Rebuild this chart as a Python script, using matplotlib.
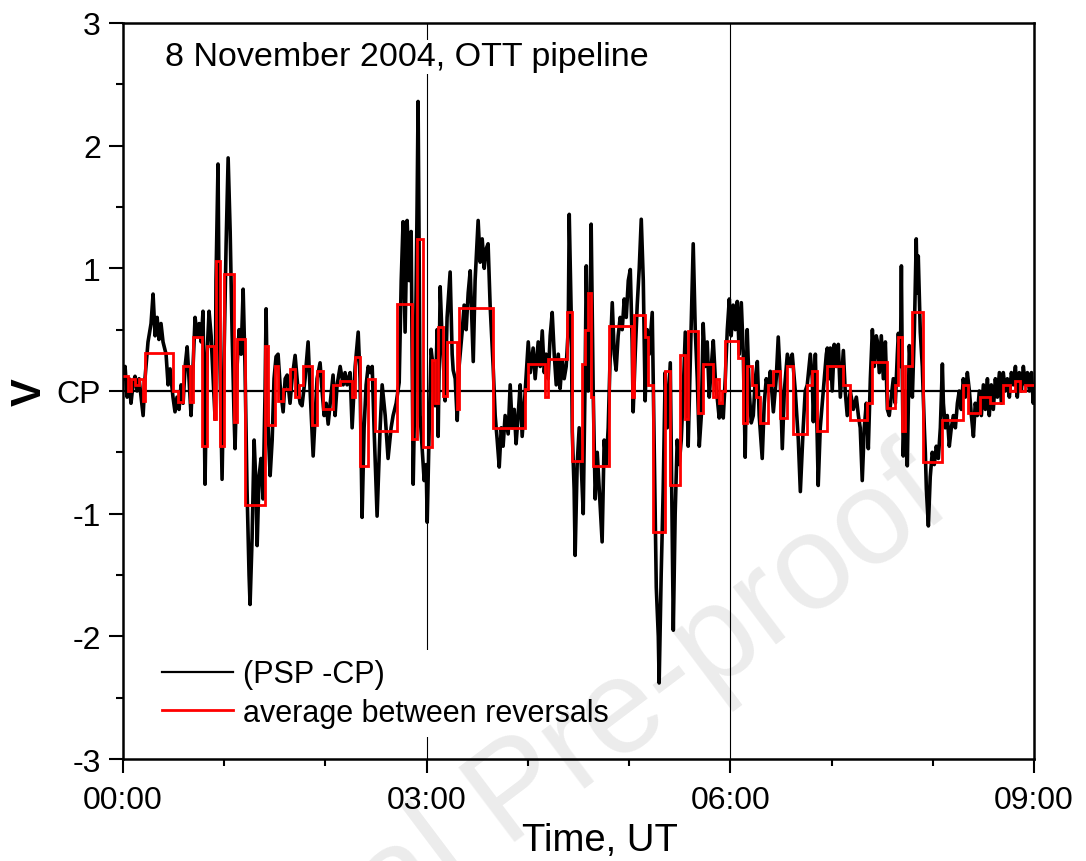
import matplotlib
matplotlib.use("Agg")
from matplotlib import pyplot as plt
from matplotlib.lines import Line2D
import numpy as np

plt.rcParams['font.family'] = ['Liberation Sans', 'DejaVu Sans']

t_h0 = [0.0, 1.2, 2.4, 3.6, 4.7, 5.9, 7.1, 8.3, 9.5, 10.7, 11.9, 13.0, 14.8, 16.6, 17.8, 19.0, 20.2, 21.3, 22.5, 23.7,
        25.5, 26.7, 27.9, 29.6, 30.8, 32.0, 33.2, 34.4, 35.6, 36.8, 38.0, 39.1, 40.3, 41.5, 42.7, 43.9, 45.1, 46.3, 47.4, 48.6,
        49.8, 51.0, 52.2, 53.4, 54.6, 55.1, 56.3, 56.9, 57.5, 58.7, 59.9]
v_h0 = [0.1, 0.2, -0.05, 0.1, -0.1, 0.05, 0.12, 0.0, 0.1, -0.05, -0.2, 0.1, 0.4, 0.55, 0.79, 0.45, 0.6, 0.42, 0.55, 0.4,
        0.3, 0.05, 0.18, -0.05, -0.17, -0.05, -0.15, 0.05, -0.1, 0.2, 0.36, 0.1, -0.2, 0.2, 0.6, 0.45, 0.55, 0.4, 0.65, -0.76,
        0.3, 0.65, 0.45, 0.1, -0.23, 0.9, 1.85, 0.8, 0.2, -0.72, 0.3]
t_h1 = [61.1, 62.3, 63.5, 64.6, 65.8, 66.4, 67.6, 68.8, 70.0, 71.2, 72.3, 73.5, 74.7, 75.3, 76.5, 77.7, 78.9, 79.5, 80.6, 81.8,
        83.0, 84.2, 84.8, 85.4, 86.0, 87.2, 88.4, 89.5, 90.7, 91.9, 93.1, 94.9, 96.1, 97.3, 99.0, 100.2, 102.0, 103.8, 105.0, 106.1,
        107.9, 109.7, 110.9, 112.7, 113.9, 115.0, 116.8, 118.0, 119.2]
v_h1 = [1.2, 1.9, 1.3, 0.5, -0.2, -0.47, 0.2, 0.5, 0.3, 0.83, 0.2, -0.8, -1.5, -1.74, -1.2, -0.4, -0.8, -1.26, -0.7, -0.55,
        -0.88, 0.0, 0.67, 0.1, -0.3, -0.69, -0.4, 0.1, 0.28, 0.3, 0.05, -0.17, 0.1, 0.13, -0.1, 0.1, 0.29, 0.0, -0.1, -0.12,
        0.1, 0.4, 0.0, -0.53, -0.2, 0.1, 0.23, 0.0, -0.2]
t_h2 = [120.4, 121.6, 122.8, 124.5, 125.7, 126.9, 128.7, 130.5, 131.6, 132.8, 134.6, 135.8, 137.6, 139.4, 140.5, 141.7, 142.9, 144.1, 145.3, 146.5,
        147.7, 148.8, 150.6, 152.4, 153.6, 155.4, 157.1, 158.9, 160.1, 161.9, 163.7, 164.9, 166.0, 167.2, 168.4, 169.6, 170.8, 171.4, 172.0, 173.2,
        174.3, 174.9, 175.5, 176.1, 177.3, 178.5, 179.7]
v_h2 = [-0.1, -0.27, -0.1, 0.13, -0.2, 0.05, 0.2, 0.05, 0.15, 0.05, 0.15, -0.3, 0.2, 0.48, 0.1, -1.03, -0.3, 0.05, 0.2, 0.15,
        0.2, -0.3, -1.02, -0.3, 0.05, -0.2, -0.55, -0.3, -0.2, -0.1, 0.07, 0.9, 1.38, 0.48, 1.39, 0.9, 1.3, 0.3, -0.76, 0.2,
        1.5, 2.36, 1.2, -0.2, -0.47, -0.73, -0.6]
t_h3 = [180.3, 181.5, 182.6, 183.8, 185.0, 186.2, 186.8, 188.0, 189.2, 190.4, 190.9, 192.1, 193.9, 195.1, 195.7, 196.9, 198.1, 199.2, 201.0, 202.2,
        203.4, 204.6, 205.8, 207.0, 207.6, 208.7, 210.5, 211.7, 212.9, 214.1, 215.3, 216.4, 217.6, 219.4, 220.6, 221.8, 223.0, 224.2, 225.3, 226.5,
        228.3, 229.5, 230.7, 231.9, 233.0, 234.2, 235.4, 236.6, 238.4]
v_h3 = [-1.07, -0.3, 0.34, 0.2, -0.12, 0.5, -0.37, 0.85, 0.4, 0.1, -0.08, 0.6, 0.97, 0.3, 0.17, 0.1, -0.24, 0.2, 0.48, 0.7,
        0.5, 0.8, 0.98, 0.5, 0.24, 0.9, 1.39, 1.05, 1.24, 1.0, 1.16, 1.2, 0.7, 0.2, -0.2, -0.4, -0.62, -0.3, -0.45, -0.2,
        -0.35, 0.05, -0.3, -0.15, -0.43, -0.2, 0.05, -0.37, 0.0]
t_h4 = [240.2, 241.4, 243.1, 244.3, 246.1, 247.3, 248.5, 249.7, 250.8, 252.0, 253.2, 254.4, 255.6, 256.8, 258.0, 259.1, 260.3, 261.5, 262.7, 263.9,
        264.5, 265.7, 266.3, 267.4, 268.0, 269.2, 270.4, 271.6, 272.8, 274.0, 274.6, 275.7, 276.9, 277.5, 278.7, 279.9, 281.1, 282.3, 284.0, 285.2,
        286.4, 287.6, 288.8, 290.0, 291.2, 292.3, 293.5, 294.7, 295.9, 297.1, 298.3, 299.5]
v_h4 = [0.4, 0.15, 0.35, 0.1, 0.4, 0.2, 0.49, 0.15, 0.3, 0.1, 0.45, 0.64, 0.3, 0.05, 0.3, 0.02, 0.25, 0.1, 0.2, 0.5,
        1.44, 0.6, -0.33, -0.8, -1.34, -0.6, -0.3, -0.6, -1.0, 0.2, 1.02, 0.0, 0.6, 1.36, 0.0, -0.88, -0.5, -0.8, -1.23, -0.4,
        -0.6, -0.3, 0.3, 0.72, 0.3, 0.17, 0.45, 0.6, 0.5, 0.75, 0.6, 0.9]
t_h5 = [300.7, 301.8, 302.4, 303.6, 304.8, 306.0, 307.2, 308.4, 309.5, 310.7, 311.9, 313.7, 314.9, 316.1, 317.3, 317.8, 319.0, 320.2, 321.4, 322.6,
        324.4, 325.6, 326.2, 327.3, 328.5, 329.7, 330.9, 332.1, 333.3, 334.5, 335.0, 336.2, 338.0, 339.2, 340.4, 341.6, 342.8, 343.9, 345.1, 346.3,
        347.5, 348.7, 349.9, 351.1, 352.2, 353.4, 354.6, 355.8, 357.0, 358.2, 359.4]
v_h5 = [0.99, 0.4, -0.17, 0.3, 0.7, 1.0, 1.4, 0.9, -0.08, 0.5, 0.3, 0.64, -0.5, -1.6, -2.0, -2.38, -1.5, -0.8, 0.15, -0.3,
        0.23, -1.2, -1.95, -1.0, -0.4, -0.6, -0.4, 0.0, 0.48, -0.1, -0.45, 0.2, 1.2, 0.5, 0.1, -0.45, -0.2, 0.55, 0.2, 0.4,
        -0.05, 0.2, 0.41, 0.1, -0.05, -0.22, -0.1, -0.22, 0.1, 0.5, 0.75]
t_h6 = [360.5, 361.7, 362.9, 364.1, 365.3, 366.5, 367.7, 368.8, 370.0, 371.2, 372.4, 373.6, 374.8, 376.0, 377.1, 378.9, 380.1, 381.3, 382.5, 383.7,
        385.5, 387.2, 388.4, 389.6, 390.8, 392.0, 393.8, 395.5, 396.7, 398.5, 400.3, 401.5, 403.2, 404.4, 405.6, 407.4, 408.6, 409.2, 410.4, 410.9,
        412.1, 413.3, 415.1, 416.9, 417.5, 418.7, 419.3, 420.4]
v_h6 = [0.45, 0.7, 0.5, 0.73, 0.3, 0.72, 0.3, -0.54, 0.5, 0.0, -0.26, -0.2, 0.1, 0.24, -0.2, -0.55, -0.1, 0.1, 0.0, 0.16,
        -0.17, 0.1, 0.44, 0.1, -0.47, 0.0, 0.3, 0.2, 0.3, 0.0, -0.4, -0.82, -0.3, 0.0, 0.05, 0.3, 0.1, -0.25, 0.3, 0.0,
        -0.77, -0.3, 0.0, 0.3, 0.35, 0.1, 0.35, 0.0]
t_h7 = [421.6, 422.8, 424.0, 425.2, 427.0, 428.1, 429.3, 431.1, 432.9, 434.7, 435.9, 437.0, 438.2, 439.4, 440.6, 441.8, 443.0, 444.2, 445.3, 446.5,
        447.1, 448.3, 449.5, 450.7, 451.9, 453.1, 454.2, 455.4, 456.6, 457.8, 459.0, 459.6, 460.8, 461.4, 461.9, 462.5, 463.7, 464.9, 466.1, 467.3,
        467.9, 469.1, 469.7, 470.2, 470.8, 471.4, 472.6, 473.8, 475.0, 475.6, 476.2, 477.4, 478.5, 479.7]
v_h7 = [0.38, 0.2, 0.38, -0.05, 0.33, 0.0, -0.2, 0.0, -0.15, -0.05, -0.2, -0.3, -0.73, -0.3, -0.1, -0.47, 0.1, 0.5, 0.2, 0.45,
        0.41, 0.15, 0.45, 0.1, 0.4, -0.15, -0.2, -0.05, 0.1, -0.1, 0.3, 0.47, 0.2, 1.02, 0.2, -0.53, 0.0, -0.61, 0.37, 0.1,
        -0.05, 0.5, 0.9, 1.24, 0.8, 1.1, 0.48, 0.2, -0.3, -0.5, -0.8, -1.1, -0.7, -0.5]
t_h8 = [480.9, 482.1, 483.3, 484.5, 485.7, 486.3, 487.4, 488.6, 489.8, 491.0, 492.2, 493.4, 494.6, 495.7, 496.9, 498.1, 499.3, 500.5, 501.7, 502.9,
        504.1, 505.2, 506.4, 507.6, 508.8, 510.0, 511.2, 512.4, 513.5, 514.7, 515.9, 517.1, 518.3, 519.5, 520.7, 521.8, 523.0, 524.2, 525.4, 526.6,
        527.8, 529.0, 530.1, 531.3, 532.5, 533.7, 534.9, 536.1, 537.3, 538.5, 539.6, 540.0]
v_h8 = [-0.6, -0.45, -0.55, -0.3, 0.22, -0.1, -0.3, -0.2, -0.45, -0.3, -0.2, -0.3, -0.1, 0.0, -0.15, 0.1, -0.05, 0.15, 0.0, -0.2,
        -0.37, -0.1, -0.2, 0.0, -0.2, 0.05, -0.15, 0.1, -0.2, 0.05, -0.15, 0.1, -0.05, 0.15, -0.1, 0.15, 0.0, 0.1, -0.05, 0.15,
        0.05, 0.2, -0.05, 0.15, 0.0, 0.2, 0.05, 0.15, 0.0, 0.15, -0.1, 0.05]

# average between reversals: step edges (minutes) and levels (V)
avg_edges = [0, 3.0, 4.7, 7.1, 9.5, 11.9, 13.0, 29.6, 32.6, 35.6, 39.7, 41.5, 46.8, 49.8, 54.0, 55.1, 57.5, 59.9, 65.8, 67.6,
             72.3, 84.2, 86.0, 90.1, 91.9, 94.9, 99.0, 102.0, 104.4, 106.7, 112.1, 115.0, 118.6, 124.5, 128.7, 135.8, 137.6, 140.5, 145.3, 149.4,
             162.5, 171.4, 174.3, 177.9, 183.2, 185.0, 186.8, 189.8, 192.1, 198.1, 199.2, 219.4, 238.4, 240.2, 250.2, 252.0, 263.3, 266.3, 272.2, 274.0,
             275.7, 277.5, 278.7, 288.2, 301.8, 303.0, 309.5, 311.3, 314.3, 321.4, 324.4, 330.3, 333.3, 335.0, 341.0, 343.9, 349.9, 351.6, 353.4, 355.2,
             357.0, 364.7, 367.7, 370.0, 373.0, 375.4, 377.7, 382.5, 385.5, 389.6, 393.8, 397.3, 405.6, 408.6, 411.5, 417.5, 427.0, 431.1, 441.2, 444.2,
             453.1, 457.8, 459.6, 461.9, 463.7, 467.9, 474.4, 485.7, 498.1, 501.1, 508.2, 514.1, 521.8, 526.0, 529.0, 531.9, 534.9, 540.0]
avg_levels = [0.12, 0.0, 0.1, 0.05, 0.1, -0.08, 0.31, 0.0, -0.09, 0.2, -0.09, 0.44, -0.45, 0.37, -0.23, 1.06, -0.45, 0.95, -0.25, 0.42,
              -0.93, 0.37, -0.28, 0.2, -0.08, 0.02, 0.18, -0.05, 0.05, 0.2, -0.28, 0.16, -0.15, 0.05, 0.08, -0.05, 0.28, -0.61, 0.1, -0.33,
              0.71, -0.39, 1.24, -0.46, 0.25, -0.1, 0.52, -0.04, 0.4, -0.15, 0.68, -0.3, 0.02, 0.22, -0.05, 0.26, 0.64, -0.57, 0.22, 0.5,
              0.8, -0.05, -0.61, 0.53, -0.05, 0.62, 0.44, 0.05, -1.15, 0.16, -0.77, 0.29, -0.23, 0.49, -0.18, 0.22, -0.05, 0.1, -0.1, 0.0,
              0.41, 0.27, -0.26, 0.2, 0.05, -0.05, -0.26, 0.05, 0.16, -0.22, 0.2, -0.35, 0.05, 0.16, -0.33, 0.2, 0.05, -0.24, -0.1, 0.24,
              -0.14, 0.05, 0.44, -0.33, 0.2, 0.64, -0.58, -0.24, 0.05, -0.18, -0.05, -0.1, 0.05, 0.0, 0.08, 0.0, 0.05]

x_ticks = [0, 180, 360, 540]
x_labels = ['00:00', '03:00', '06:00', '09:00']
y_ticks = [-3, -2, -1, 0, 1, 2, 3]
y_labels = ['-3', '-2', '-1', 'CP', '1', '2', '3']
marker_times = [180, 360]

psp_t = np.concatenate([t_h0, t_h1, t_h2, t_h3, t_h4, t_h5, t_h6, t_h7, t_h8])
psp_v = np.concatenate([v_h0, v_h1, v_h2, v_h3, v_h4, v_h5, v_h6, v_h7, v_h8])

fig = plt.figure(figsize=(10.86, 8.62), dpi=100)
ax = fig.add_axes([0.1133, 0.1183, 0.8388, 0.8539])

for mt in marker_times:
    ax.axvline(mt, color='k', lw=0.8, zorder=1)
ax.axhline(0, color='k', lw=1.6, zorder=2)
ax.plot(psp_t, psp_v, color='k', lw=2.6, zorder=3)
ax.stairs(avg_levels, avg_edges, baseline=None, color='#ff0000', lw=2.0, zorder=4)

ax.set_xlim(0, 540)
ax.set_ylim(-3, 3)
ax.set_xticks(x_ticks)
ax.set_xticklabels(x_labels)
ax.set_xticks(np.arange(60, 540, 60), minor=True)
ax.set_yticks(y_ticks)
ax.set_yticklabels(y_labels)
ax.set_yticks(np.arange(-2.5, 3, 1.0), minor=True)

ax.tick_params(which='major', direction='out', length=10, width=1.5, labelsize=23, pad=6)
ax.tick_params(which='minor', direction='out', length=5, width=1.5)
ax.tick_params(axis='x', which='major', pad=9)
for s in ax.spines.values():
    s.set_linewidth(1.8)

ax.set_xlabel('Time, UT', fontsize=27.5)
ax.xaxis.set_label_coords(0.523, -0.085)
ax.set_ylabel('V', fontsize=30, fontweight='bold')
ax.yaxis.set_label_coords(-0.08, 0.5)

ax.text(0.046, 0.954, '8 November 2004, OTT pipeline', transform=ax.transAxes, fontsize=24.5,
        va='center', ha='left', zorder=6,
        bbox=dict(facecolor='white', edgecolor='none', pad=1))

handles = [Line2D([], [], color='k', lw=1.6), Line2D([], [], color='#ff0000', lw=2.0)]
leg = ax.legend(handles, ['(PSP -CP)', 'average between reversals'], loc='lower left',
                bbox_to_anchor=(0.033, 0.03), fontsize=22, frameon=True, framealpha=1,
                facecolor='white', edgecolor='none', handlelength=2.3, handletextpad=0.35,
                labelspacing=0.28, borderpad=0.3, borderaxespad=0)
leg.set_zorder(6)

# faint watermark laid over the page, partly outside the figure as in the source
fig.text(0.879, 0.408, 'Journal Pre-proof', fontsize=97, color='k', alpha=0.08,
         rotation=37, rotation_mode='anchor', ha='right', va='baseline', zorder=10)

fig.savefig('out.png', dpi=100)
